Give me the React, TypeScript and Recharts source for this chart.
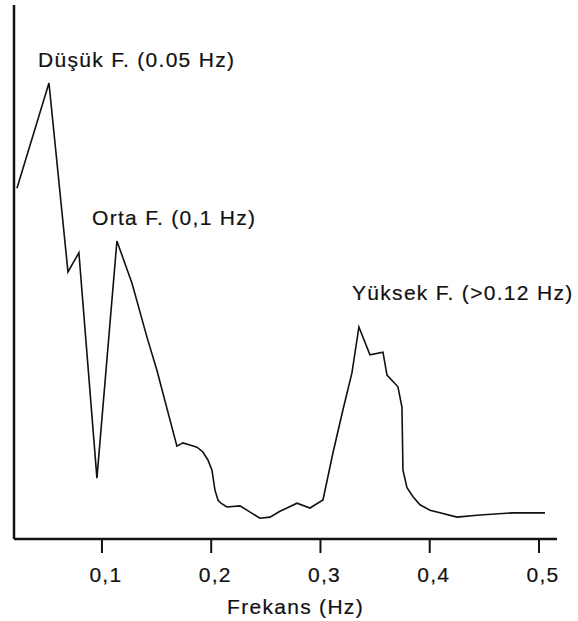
import React from "react";
import { LineChart, Line, XAxis, YAxis } from "recharts";

// frequency (Hz) and relative spectral power
const frequencies = [
  0.0222, 0.0515, 0.0689, 0.0789, 0.0954, 0.1137, 0.1275, 0.1412, 0.1503, 0.1686,
  0.1741, 0.1805, 0.187, 0.1924, 0.197, 0.2007, 0.2034, 0.2062, 0.2089, 0.2144,
  0.2263, 0.2327, 0.2382, 0.2446, 0.2538, 0.2629, 0.2693, 0.2785, 0.2904, 0.3023,
  0.3114, 0.3206, 0.3288, 0.3352, 0.3453, 0.3572, 0.3609, 0.3709, 0.3746, 0.3755,
  0.3792, 0.3847, 0.3911, 0.4002, 0.4094, 0.4249, 0.446, 0.4762, 0.5055,
];
const power = [
  65.7, 85.4, 50.0, 53.6, 11.4, 55.8, 47.9, 37.8, 31.6, 17.4,
  18.0, 17.6, 17.2, 16.3, 14.8, 12.9, 9.2, 7.3, 6.7, 6.0,
  6.2, 5.4, 4.7, 3.9, 4.1, 5.2, 5.8, 6.7, 5.8, 7.3,
  16.1, 24.2, 31.1, 39.7, 34.5, 35.0, 30.7, 28.5, 24.7, 12.9,
  9.6, 7.9, 6.4, 5.4, 4.9, 4.1, 4.5, 4.9, 4.9,
];
const xTicks = [0.1, 0.2, 0.3, 0.4, 0.5];

const bands = [
  { text: "Düşük F. (0.05 Hz)", x: 38, y: 67 },
  { text: "Orta F. (0,1 Hz)", x: 92, y: 225 },
  { text: "Yüksek F. (>0.12 Hz)", x: 352, y: 300 },
];

const data = frequencies.map((f, i) => ({ f, p: power[i] }));

const INK = "#111";
const FONT = "'Liberation Sans', Arial, sans-serif";
const textStyle = { fill: INK, fontSize: 21, fontFamily: FONT, letterSpacing: 1.3, stroke: INK, strokeWidth: 0.2 };

export default function App() {
  return (
    <div style={{ position: "absolute", left: 0, top: 0, width: 578, height: 621, background: "#fff" }}>
      <LineChart
        width={578}
        height={621}
        data={data}
        margin={{ top: 5, right: 21, left: 12, bottom: 0 }}
      >
        <XAxis
          dataKey="f"
          type="number"
          domain={[0.0195, 0.5165]}
          ticks={xTicks}
          tickFormatter={(v: number) => v.toFixed(1).replace(".", ",")}
          height={82}
          tickSize={14}
          tickMargin={14}
          axisLine={{ stroke: INK, strokeWidth: 2.5 }}
          tickLine={{ stroke: INK, strokeWidth: 2 }}
          tick={{ ...textStyle, dx: 4 }}
          allowDataOverflow
          label={{
            value: "Frekans (Hz)",
            position: "insideBottom",
            offset: 7,
            dx: 10,
            ...textStyle,
          }}
        />
        <YAxis
          domain={[0, 100]}
          width={2}
          tick={false}
          tickLine={false}
          axisLine={{ stroke: INK, strokeWidth: 2.5 }}
        />
        <Line
          dataKey="p"
          type="linear"
          stroke={INK}
          strokeWidth={1.6}
          dot={false}
          isAnimationActive={false}
        />
      </LineChart>
      <svg
        width={578}
        height={621}
        style={{ position: "absolute", left: 0, top: 0, pointerEvents: "none" }}
      >
        {bands.map((b) => (
          <text key={b.text} x={b.x} y={b.y} {...textStyle}>
            {b.text}
          </text>
        ))}
      </svg>
    </div>
  );
}
